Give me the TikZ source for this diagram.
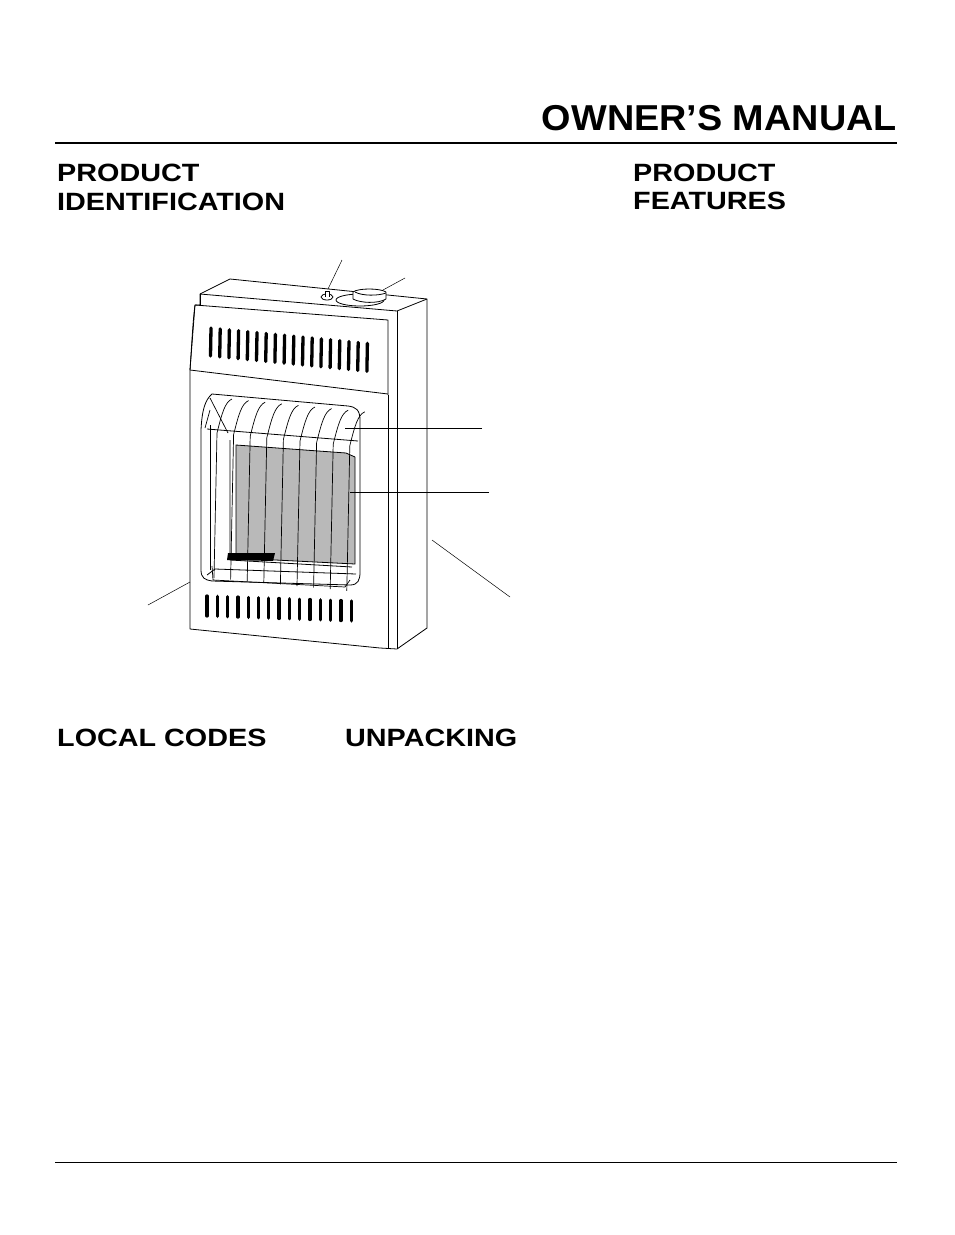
\documentclass[tikz,border=0pt]{standalone}
\usepackage{fontspec}
\setmainfont{Liberation Sans}
\begin{document}
\begin{tikzpicture}[x=1pt,y=-1pt,
  head/.style={font=\bfseries\fontsize{25}{28}\selectfont,anchor=base west,inner sep=0,xscale=1.15},
  body/.style={line width=0.8pt,line join=round},
  lead/.style={line width=0.5pt},
  slot/.style={line width=3.3pt,line cap=round}]
\useasboundingbox (0,0) rectangle (954,1235);
\node[font=\bfseries\fontsize{36}{40}\selectfont,anchor=base east,inner sep=0,xscale=1.05] (title) at (897,130) {OWNER’S MANUAL};
\draw[line width=1.3pt] (55,143) -- (897,143);
\draw[line width=0.8pt] (55,1162) -- (897,1162);
\node[head] (h1) at (57,181) {PRODUCT};
\node[head] (h2) at (57,210) {IDENTIFICATION};
\node[head] (h3) at (633,181) {PRODUCT};
\node[head] (h4) at (633,209) {FEATURES};
\node[head] (h5) at (57,746) {LOCAL CODES};
\node[head] (h6) at (345,746) {UNPACKING};
% heater body
\draw[body,fill=white] (200,294) -- (230,279) -- (427,299) -- (427,628) -- (397,649) -- (380,648) -- (190,629) -- (190,370) -- (195,305) -- (200,305) -- cycle;
\draw[body] (200,294) -- (200,305);
\draw[body] (200,294) -- (397,311);
\draw[body] (195,305) -- (388,320) -- (388,395);
\draw[body] (397,311) -- (427,299);
\draw[body] (397,311) -- (397,649);
\draw[body] (388,395) -- (388,648);
\draw[body] (190,370) -- (388,394);
\draw[body] (190,370) .. controls (192,340) and (193,320) .. (195,305);
% knob and pilot
\draw[body] (360,300) ellipse (24 and 6);
\draw[body,fill=white] (353,299) -- (353,292) .. controls (358,288) and (380,288) .. (386,292) -- (386,299) .. controls (378,304) and (360,303) .. (353,299);
\draw[body] (355,292) .. controls (362,296) and (378,296) .. (386,293);
\draw[body] (327,297) ellipse (6 and 3);
\draw[body,fill=white] (325,297) -- (325,291) -- (329,291) -- (329,297);
% top louvers
\foreach \i in {0,...,17}{
  \pgfmathsetmacro\xx{211+\i*9.2}
  \pgfmathsetmacro\yy{328+\i*0.9}
  \draw[slot] (\xx,\yy) -- (\xx-0.5,\yy+28);}
% bottom louvers
\foreach \i in {0,...,14}{
  \pgfmathsetmacro\xx{207+\i*10.3}
  \pgfmathsetmacro\yy{596+\i*0.35}
  \draw[slot] (\xx,\yy) -- (\xx,\yy+20);}
% window recess
\draw[body] (212,394) .. controls (205,400) and (202,410) .. (201,430) -- (201,570) .. controls (201,578) and (205,580) .. (212,581) -- (350,585) .. controls (358,585) and (360,580) .. (360,572) -- (360,420) .. controls (360,410) and (356,407) .. (348,406) -- cycle;
\draw[body] (207,429) -- (358,441);
\draw[body] (207,575) -- (215,569) -- (356,574);
\draw[body] (210,425) -- (210,570);
\draw[body] (230,440) -- (230,560) -- (352,567);
% radiant panel
\draw[body,fill=gray!55] (236,445) -- (346,453) -- (355,457) -- (355,564) -- (236,558) -- cycle;
\fill (228,553) -- (275,553) -- (273,561) -- (227,560) -- cycle;
% grill bars
\foreach \i in {0,...,8}{
  \pgfmathsetmacro\xx{227+\i*16.6}
  \pgfmathsetmacro\yy{398+\i*1.6}
  \draw[line width=0.7pt] (\xx-10,\yy+35) .. controls (\xx-5,\yy+15) and (\xx-2,\yy+4) .. (\xx+5,\yy+1) (\xx-10,\yy+35) -- (\xx-13,\yy+180);}
\draw[line width=0.7pt] (210,398) -- (228,433) (210,410) -- (205,428);
\draw[line width=0.7pt] (212,566) -- (213,580) -- (345,587) -- (350,580);
% leader lines
\coordinate (l1) at (342,260); \coordinate (p1) at (328,289);
\coordinate (l2) at (405,278); \coordinate (p2) at (383,290);
\coordinate (l3) at (482,428); \coordinate (p3) at (345,428);
\coordinate (l4) at (489,492); \coordinate (p4) at (350,492);
\coordinate (l5) at (510,597); \coordinate (p5) at (432,540);
\coordinate (l6) at (148,605); \coordinate (p6) at (190,582);
\foreach \a/\b in {l1/p1,l2/p2,l3/p3,l4/p4,l5/p5,l6/p6} \draw[lead] (\a) -- (\b);
\end{tikzpicture}
\end{document}
